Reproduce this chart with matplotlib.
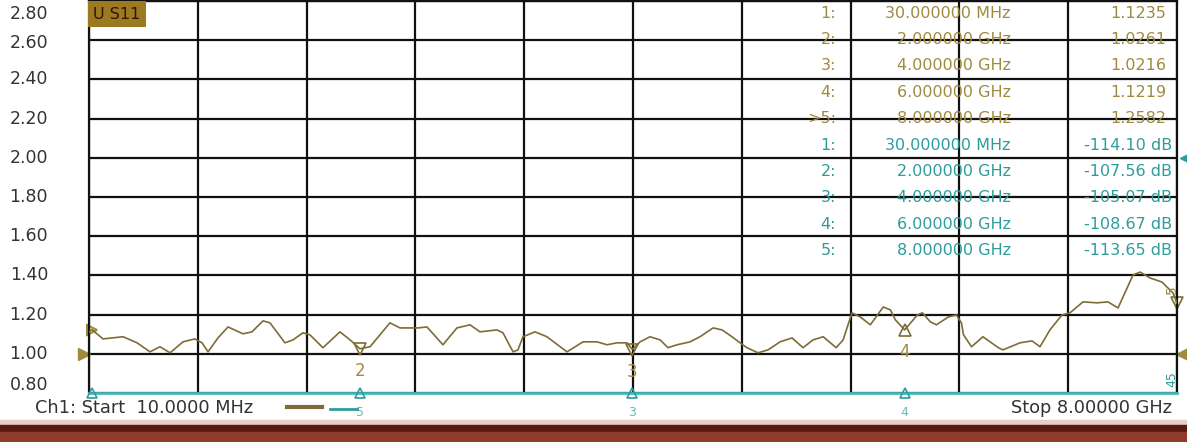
import numpy as np
import matplotlib.pyplot as plt
import matplotlib.transforms as mtransforms
from matplotlib.lines import Line2D
from matplotlib.patches import Rectangle

plt.rcParams['font.family'] = ['DejaVu Sans']

# trace: frequency (GHz) vs VSWR
freq_ghz = [0.01, 0.03, 0.113, 0.260, 0.363, 0.458, 0.531, 0.605, 0.700, 0.788,
            0.840, 0.884, 0.957, 1.031, 1.141, 1.207, 1.288, 1.339, 1.449, 1.508,
            1.581, 1.632, 1.728, 1.853, 1.927, 2.000, 2.074, 2.220, 2.294, 2.426,
            2.492, 2.609, 2.712, 2.808, 2.881, 3.006, 3.050, 3.124, 3.160, 3.197,
            3.285, 3.373, 3.520, 3.638, 3.741, 3.814, 3.888, 3.961, 4.000, 4.057,
            4.130, 4.204, 4.262, 4.328, 4.424, 4.497, 4.593, 4.659, 4.732, 4.791,
            4.842, 4.923, 4.997, 5.085, 5.173, 5.254, 5.327, 5.402, 5.497, 5.548,
            5.613, 5.674, 5.748, 5.843, 5.895, 5.932, 6.000, 6.093, 6.130, 6.189,
            6.233, 6.321, 6.380, 6.417, 6.432, 6.491, 6.575, 6.688, 6.722, 6.847,
            6.935, 6.994, 7.067, 7.155, 7.214, 7.310, 7.413, 7.493, 7.567, 7.677,
            7.729, 7.802, 7.890, 7.971, 8.000]
vswr = [1.110, 1.124, 1.076, 1.087, 1.056, 1.010, 1.036, 1.005, 1.061, 1.076,
        1.056, 1.010, 1.081, 1.137, 1.102, 1.112, 1.168, 1.158, 1.056, 1.071,
        1.107, 1.097, 1.031, 1.112, 1.071, 1.026, 1.036, 1.158, 1.132, 1.132,
        1.137, 1.046, 1.132, 1.148, 1.112, 1.122, 1.107, 1.010, 1.020, 1.087,
        1.112, 1.087, 1.010, 1.061, 1.061, 1.046, 1.056, 1.056, 1.022, 1.061,
        1.087, 1.071, 1.031, 1.046, 1.061, 1.087, 1.132, 1.122, 1.087, 1.056,
        1.031, 1.005, 1.020, 1.061, 1.081, 1.031, 1.071, 1.087, 1.031, 1.071,
        1.209, 1.188, 1.148, 1.239, 1.224, 1.173, 1.122, 1.198, 1.209, 1.163,
        1.148, 1.188, 1.198, 1.158, 1.097, 1.036, 1.087, 1.031, 1.020, 1.056,
        1.066, 1.036, 1.122, 1.198, 1.209, 1.265, 1.260, 1.265, 1.234, 1.402,
        1.417, 1.387, 1.366, 1.310, 1.258]

y_ticks = [0.80, 1.00, 1.20, 1.40, 1.60, 1.80, 2.00, 2.20, 2.40, 2.60, 2.80]

marker_ids = ["1:", "2:", "3:", "4:", ">5:"]
marker_ids_db = ["1:", "2:", "3:", "4:", "5:"]
marker_freq = [0.03, 2.0, 4.0, 6.0, 8.0]
marker_freq_text = ["30.000000 MHz", "2.000000 GHz", "4.000000 GHz",
                    "6.000000 GHz", "8.000000 GHz"]
marker_vswr = ["1.1235", "1.0261", "1.0216", "1.1219", "1.2582"]
marker_db = ["-114.10 dB", "-107.56 dB", "-105.07 dB", "-108.67 dB", "-113.65 dB"]

W, H = 1187, 442
olive = '#7e6c36'
gold = '#a08a3e'
teal = '#2e9c9c'

fig = plt.figure(figsize=(W / 100, H / 100), dpi=100)
fig.patch.set_facecolor('white')
ax = fig.add_axes([89 / W, 49 / H, 1088 / W, 392 / H])
ax.set_xlim(0.01, 8.0)
ax.set_ylim(0.8, 2.8)
ax.set_xticks(np.linspace(0.01, 8.0, 11))
ax.set_yticks(y_ticks)
ax.set_xticklabels([])
ax.set_yticklabels([])
ax.tick_params(length=0)
ax.grid(True, color='#111111', lw=1.6)
for s in ['left', 'right', 'top']:
    ax.spines[s].set_color('#111111')
    ax.spines[s].set_linewidth(1.6)
ax.spines['bottom'].set_color('#48b8b8')
ax.spines['bottom'].set_linewidth(2)

# y labels, outermost ones pushed inside the frame
ytrans = mtransforms.blended_transform_factory(fig.transFigure, ax.transData)
for val in y_ticks:
    dy = {2.8: -13, 2.6: -3, 0.8: 8}.get(round(val, 2), 0)
    t = mtransforms.offset_copy(ytrans, fig=fig, x=0, y=dy, units='dots')
    ax.text(48 / W, val, f"{val:.2f}", transform=t, ha='right', va='center',
            fontsize=12.5, color='#333333')

# trace
ax.plot(freq_ghz, vswr, color=olive, lw=1.2, zorder=3)

# markers on trace
mv = [float(v) for v in marker_vswr]
ax.plot(marker_freq[0], mv[0], marker='>', ms=7, mfc='none', mec=gold, mew=1.5, clip_on=False)
for f, v, lab in zip(marker_freq[1:4], mv[1:4], ["2", "3", "4"]):
    ax.plot(f, v, marker='v' if lab != "4" else '^', ms=8, mfc='none', mec=olive, mew=1.2, zorder=4)
    ax.annotate(lab, (f, v), xytext=(0, -22), textcoords='offset pixels',
                ha='center', va='center', fontsize=12, color=gold)
ax.plot(marker_freq[4], mv[4], marker='v', ms=8, mfc='none', mec=olive, mew=1.2, clip_on=False)
ax.annotate("5", (marker_freq[4], mv[4]), xytext=(-5, 14), textcoords='offset pixels',
            ha='center', va='center', fontsize=10, color=gold, rotation=90)

# teal channel markers sitting on the bottom edge
for f, lab in zip(marker_freq[:4], ["", "5", "3", "4"]):
    ax.plot(f, 0.8, marker='^', ms=7, mfc='none', mec=teal, mew=1.2, clip_on=False, zorder=5)
    if lab:
        ax.annotate(lab, (f, 0.8), xytext=(0, -20), textcoords='offset pixels',
                    ha='center', va='center', fontsize=9, color=teal, alpha=0.7)
ax.annotate("45", (marker_freq[4], 0.8), xytext=(-5, 14), textcoords='offset pixels',
            ha='center', va='center', fontsize=9, color=teal, rotation=90)

# reference level arrows
etrans = mtransforms.blended_transform_factory(ax.transAxes, ax.transData)
ax.plot([1.007], [2.0], marker='<', ms=7, color=teal, transform=etrans, clip_on=False)
ax.plot([1.005], [1.0], marker='<', ms=8, color=gold, transform=etrans, clip_on=False)
ax.plot([-0.005], [1.0], marker='>', ms=8, color=gold, transform=etrans, clip_on=False)

# trace label box
ax.text(0.004, 0.985, "U S11", transform=ax.transAxes, ha='left', va='top',
        fontsize=11.5, color='#3a1200',
        bbox=dict(facecolor='#9c7a22', edgecolor='none', pad=4))

# marker table (drawn over the grid, no background)
for i in range(5):
    y1 = 1 - (13 + i * 26.4) / H
    y2 = 1 - (13 + (i + 5) * 26.4) / H
    fig.text(836 / W, y1, marker_ids[i], ha='right', va='center', fontsize=11.5, color=gold)
    fig.text(1011 / W, y1, marker_freq_text[i], ha='right', va='center', fontsize=11.5, color=gold)
    fig.text(1166 / W, y1, marker_vswr[i], ha='right', va='center', fontsize=11.5, color=gold)
    fig.text(836 / W, y2, marker_ids_db[i], ha='right', va='center', fontsize=11.5, color=teal)
    fig.text(1011 / W, y2, marker_freq_text[i], ha='right', va='center', fontsize=11.5, color=teal)
    fig.text(1172 / W, y2, marker_db[i], ha='right', va='center', fontsize=11.5, color=teal)

# footer
fig.text(35 / W, 1 - 408 / H, "Ch1: Start  10.0000 MHz", ha='left', va='center',
         fontsize=12.8, color='#333333')
fig.text(1172 / W, 1 - 408 / H, "Stop 8.00000 GHz", ha='right', va='center',
         fontsize=12.8, color='#333333')
fig.add_artist(Line2D([287 / W, 322 / W], [1 - 407 / H] * 2, color=olive, lw=3))
fig.add_artist(Line2D([330 / W, 357 / W], [1 - 409 / H] * 2, color=teal, lw=2))

# window border at the bottom
fig.add_artist(Rectangle((0, 0), 1, 22 / H, transform=fig.transFigure, color='#e6cfc9'))
fig.add_artist(Rectangle((0, 0), 1, 17 / H, transform=fig.transFigure, color='#5a1a12'))
fig.add_artist(Rectangle((0, 0), 1, 10 / H, transform=fig.transFigure, color='#8e3b2c'))

fig.savefig("out.png", dpi=100)
